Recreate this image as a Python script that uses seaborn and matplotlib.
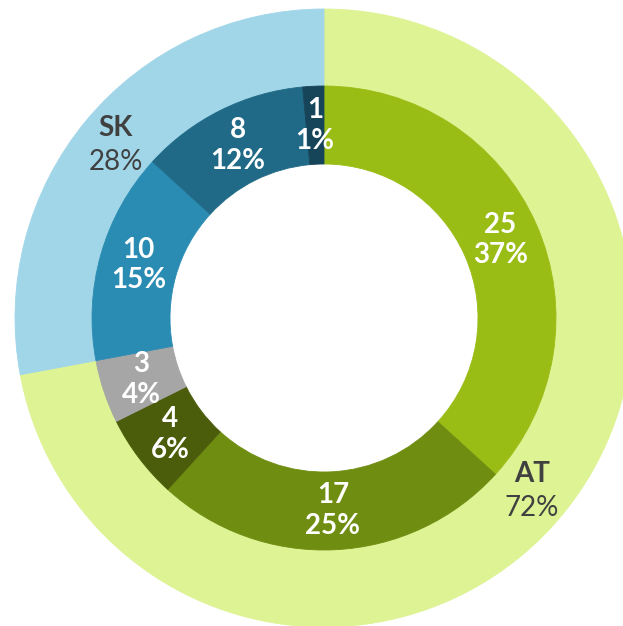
import matplotlib
matplotlib.use("Agg")
import matplotlib.pyplot as plt
import seaborn as sns
import numpy as np

# Data
outer_labels = ["AT", "SK"]
outer_values = [49, 19]
outer_pcts = ["72%", "28%"]
outer_colors = ["#ddf394", "#a1d6e9"]

inner_values = [25, 17, 4, 3, 10, 8, 1]
inner_pcts = ["37%", "25%", "6%", "4%", "15%", "12%", "1%"]
inner_colors = ["#9abd16", "#6f8d11", "#4b5c0a", "#a6a6a6", "#2a8cb2", "#206a87", "#164559"]

sns.set_theme(style="white")
plt.rcParams['font.family'] = ['Lato', 'DejaVu Sans']

W, H = 623, 626
fig = plt.figure(figsize=(W / 100, H / 100), dpi=100)
ax = fig.add_axes([0, 0, 1, 1])
cx, cy = 324, 318
R_out, R_mid, R_in = 309, 232, 154

ow, _ = ax.pie(outer_values, radius=R_out, center=(0, 0), startangle=90, counterclock=False,
               colors=outer_colors, wedgeprops=dict(width=R_out - R_mid, linewidth=0.6),
               frame=True)
for w, c in zip(ow, outer_colors):
    w.set_edgecolor(c)
iw, _ = ax.pie(inner_values, radius=R_mid, center=(0, 0), startangle=90, counterclock=False,
               colors=inner_colors, wedgeprops=dict(width=R_mid - R_in, linewidth=0.6),
               frame=True)
for w, c in zip(iw, inner_colors):
    w.set_edgecolor(c)

ax.set_xlim(-cx, W - cx)
ax.set_ylim(-(H - cy), cy)
ax.set_aspect('equal')
ax.axis('off')

# inner labels
r_lab = (R_mid + R_in) / 2
for w, v, p in zip(iw, inner_values, inner_pcts):
    ang = np.deg2rad((w.theta1 + w.theta2) / 2)
    x, y = r_lab * np.cos(ang), r_lab * np.sin(ang)
    ax.text(x, y, f"{v}\n{p}", ha='center', va='center', color='white',
            fontsize=20, fontweight='bold', linespacing=1.22)

# outer labels
r_lab2 = (R_out + R_mid) / 2
for w, l, p in zip(ow, outer_labels, outer_pcts):
    ang = np.deg2rad((w.theta1 + w.theta2) / 2)
    x, y = r_lab2 * np.cos(ang), r_lab2 * np.sin(ang)
    ax.text(x, y + 17, l, ha='center', va='center', color='#404040',
            fontsize=20, fontweight='bold')
    ax.text(x, y - 17, p, ha='center', va='center', color='#404040',
            fontsize=20)

fig.savefig("out.png", dpi=100)
